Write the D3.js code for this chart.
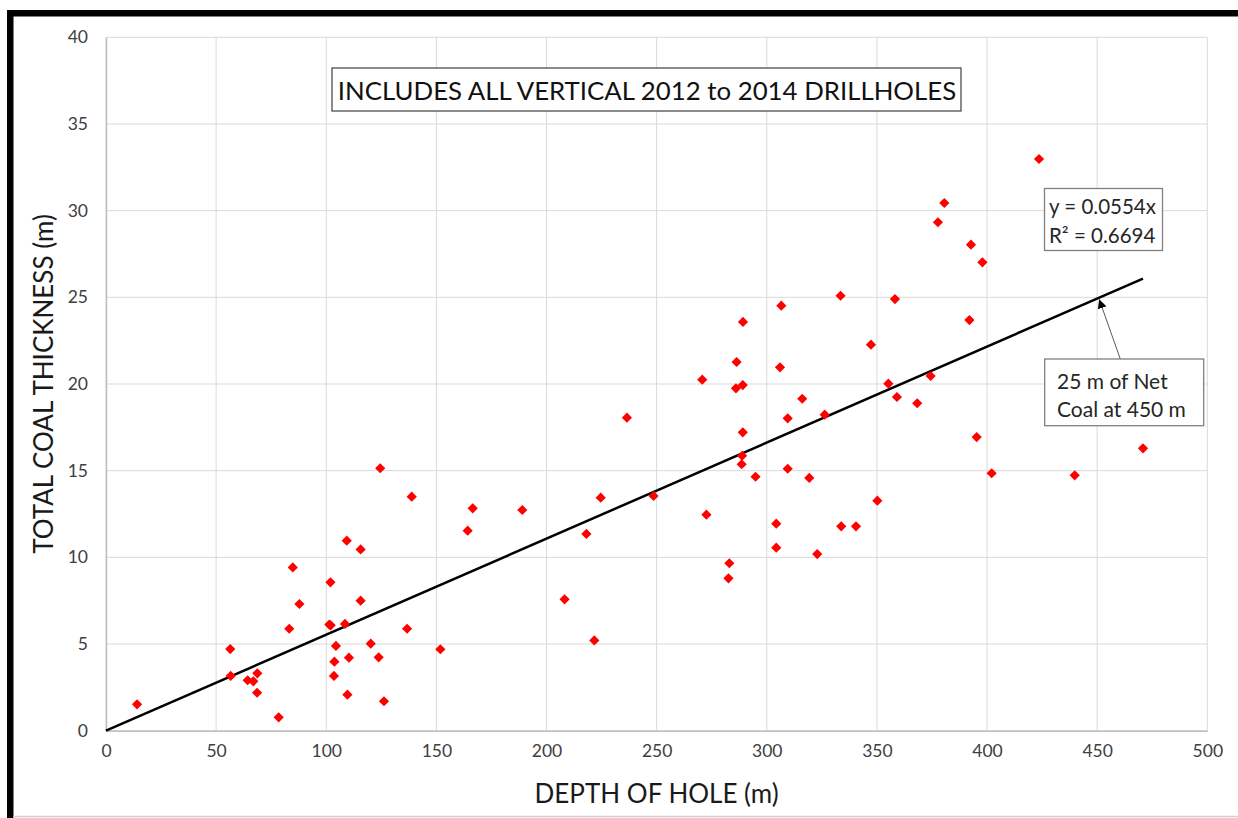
<!DOCTYPE html>
<html><head><meta charset="utf-8">
<script src="https://cdn.jsdelivr.net/npm/d3@7"></script>
<style>
html,body{margin:0;padding:0;background:#fff;}
svg{display:block;}
text{font-family:Lato,"Open Sans",sans-serif;}
</style></head>
<body>
<svg id="chart" width="1238" height="818"></svg>
<script>
// ---- data ----
const depth = [14.1,56.4,56.6,64.3,66.9,68.7,68.6,78.4,83.2,84.8,87.8,101.9,101.4,102.0,108.5,104.4,103.7,103.5,110.3,109.6,115.6,120.2,123.8,126.2,136.7,124.5,138.8,109.3,115.6,151.8,166.5,164.2,189.0,208.2,218.1,221.7,224.6,236.5,248.6,270.7,272.6,283.0,282.6,286.3,289.2,286.0,289.1,289.1,288.8,288.6,294.9,306.6,306.0,309.5,309.5,304.3,304.3,316.1,319.3,322.9,326.3,333.5,333.8,340.5,347.3,350.2,355.2,358.2,359.1,368.3,374.4,377.7,380.6,392.0,392.7,395.3,397.9,402.1,423.6,439.8,470.8];
const thickness = [1.52,4.71,3.16,2.91,2.85,3.31,2.19,0.77,5.88,9.42,7.31,8.56,6.12,6.08,6.16,4.89,3.98,3.16,4.21,2.08,7.50,5.02,4.23,1.70,5.88,15.14,13.50,10.96,10.46,4.70,12.83,11.54,12.73,7.58,11.35,5.21,13.44,18.06,13.54,20.25,12.46,9.66,8.79,21.27,23.58,19.75,19.94,17.21,15.86,15.37,14.65,24.52,20.96,18.02,15.11,11.94,10.56,19.15,14.58,10.19,18.23,25.09,11.79,11.79,22.27,13.27,20.02,24.90,19.25,18.89,20.46,29.33,30.44,23.69,28.04,16.94,27.02,14.85,32.98,14.73,16.29];
const xTicks = [0,50,100,150,200,250,300,350,400,450,500];
const yTicks = [0,5,10,15,20,25,30,35,40];
const slope = 0.0554;
const r2 = 0.6694;
const titleText = "INCLUDES ALL VERTICAL 2012 to 2014 DRILLHOLES";
const xTitle = "DEPTH OF HOLE (m)";
const yTitle = "TOTAL COAL THICKNESS (m)";
const eqLines = ["y = " + slope + "x", "R\u00B2 = " + r2];
const noteLines = ["25 m of Net", "Coal at 450 m"];
const notePoint = [450, 25];

// ---- layout ----
const svg = d3.select("#chart");
const L = 106, T = 37.3, R = 1207.3, B = 730.7;
const x = d3.scaleLinear().domain([0,500]).range([L,R]);
const y = d3.scaleLinear().domain([0,40]).range([B,T]);

// outer frame
svg.append("rect").attr("x",7).attr("y",10).attr("width",1240).attr("height",6.5).attr("fill","#000");
svg.append("rect").attr("x",7).attr("y",10).attr("width",6.5).attr("height",820).attr("fill","#000");
svg.append("line").attr("x1",13).attr("x2",1238).attr("y1",816.5).attr("y2",816.5).attr("stroke","#cfcfcf").attr("stroke-width",1.5);

// gridlines
const g = svg.append("g");
g.selectAll(".vg").data(xTicks).join("line")
  .attr("x1",d=>x(d)).attr("x2",d=>x(d)).attr("y1",T).attr("y2",B)
  .attr("stroke","#d9d9d9").attr("stroke-width",1);
g.selectAll(".hg").data(yTicks).join("line")
  .attr("x1",L).attr("x2",R).attr("y1",d=>y(d)).attr("y2",d=>y(d))
  .attr("stroke","#d9d9d9").attr("stroke-width",1);

// axes
const xAxis = d3.axisBottom(x).tickValues(xTicks).tickSize(0).tickPadding(14);
const yAxis = d3.axisLeft(y).tickValues(yTicks).tickSize(0).tickPadding(18);
const gx = svg.append("g").attr("transform",`translate(0,${B})`).call(xAxis);
const gy = svg.append("g").attr("transform",`translate(${L},0)`).call(yAxis);
[gx,gy].forEach(a=>{
  a.select(".domain").attr("stroke","#bfbfbf").attr("stroke-width",1.5);
  a.selectAll("text").attr("font-family","Lato, sans-serif").attr("font-size",17.5).attr("fill","#404040");
});

// axis titles
svg.append("text").attr("x",(L+R)/2).attr("y",803).attr("text-anchor","middle")
  .attr("font-size",26).attr("fill","#1a1a1a").text(xTitle);
svg.append("text").attr("transform",`translate(53,${(T+B)/2}) rotate(-90)`).attr("text-anchor","middle")
  .attr("font-size",26).attr("fill","#1a1a1a").text(yTitle);

// trendline
const xMax = d3.max(depth);
svg.append("line").attr("x1",x(0)).attr("y1",y(0)).attr("x2",x(xMax)).attr("y2",y(slope*xMax))
  .attr("stroke","#000").attr("stroke-width",2.5);

// points
const pts = depth.map((d,i)=>[d,thickness[i]]);
const sym = d3.symbol().type(d3.symbolSquare).size(52);
svg.append("g").selectAll("path").data(pts).join("path")
  .attr("d",sym)
  .attr("transform",d=>`translate(${x(d[0])},${y(d[1])}) rotate(45)`)
  .attr("fill","#ff0000");

// title box
svg.append("rect").attr("x",332).attr("y",68).attr("width",629).attr("height",43)
  .attr("fill","#fff").attr("stroke","#404040").attr("stroke-width",1.2);
svg.append("text").attr("x",647).attr("y",99.5).attr("text-anchor","middle")
  .attr("font-size",25.8).attr("fill","#111").text(titleText);

// equation box
svg.append("rect").attr("x",1044.5).attr("y",188.5).attr("width",118).attr("height",62)
  .attr("fill","#fff").attr("stroke","#808080").attr("stroke-width",1.3);
svg.append("g").selectAll("text").data(eqLines).join("text")
  .attr("x",1049).attr("y",(d,i)=>214+i*28.5)
  .attr("font-size",20.5).attr("fill","#262626").text(d=>d);

// note box + arrow
const nb = {x:1044.7, y:359, w:159, h:66.7};
svg.append("defs").append("marker").attr("id","ah").attr("viewBox","0 0 10 10")
  .attr("refX",10).attr("refY",5).attr("markerWidth",9).attr("markerHeight",9)
  .attr("markerUnits","userSpaceOnUse").attr("orient","auto")
  .append("path").attr("d","M0,0 L10,5 L0,10 z").attr("fill","#000");
svg.append("line").attr("x1",1120.3).attr("y1",nb.y).attr("x2",x(notePoint[0])+2).attr("y2",y(notePoint[1])+2)
  .attr("stroke","#595959").attr("stroke-width",1).attr("marker-end","url(#ah)");
svg.append("rect").attr("x",nb.x).attr("y",nb.y).attr("width",nb.w).attr("height",nb.h)
  .attr("fill","#fff").attr("stroke","#808080").attr("stroke-width",1.3);
svg.append("g").selectAll("text").data(noteLines).join("text")
  .attr("x",1057).attr("y",(d,i)=>388.5+i*28.5)
  .attr("font-size",21).attr("fill","#262626").text(d=>d);
</script>
</body></html>
